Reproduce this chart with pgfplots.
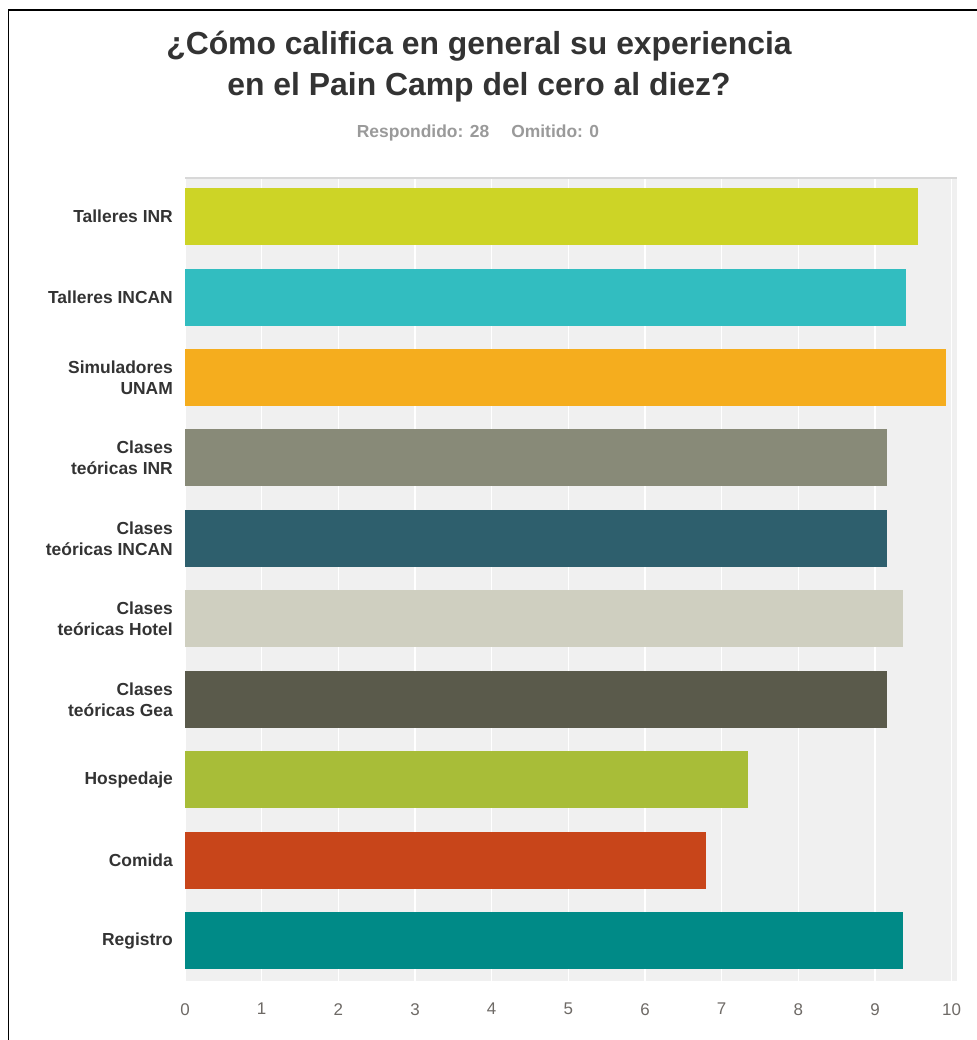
\documentclass[border=0pt]{standalone}
\usepackage{fontspec}
\setmainfont{Liberation Sans}
\usepackage{pgfplots}
\pgfplotsset{compat=1.18}
\definecolor{cA}{HTML}{CDD426}
\definecolor{cB}{HTML}{32BDC0}
\definecolor{cC}{HTML}{F5AD1E}
\definecolor{cD}{HTML}{888A78}
\definecolor{cE}{HTML}{2E5F6D}
\definecolor{cF}{HTML}{CFCFC0}
\definecolor{cG}{HTML}{5A5A4B}
\definecolor{cH}{HTML}{A8BD38}
\definecolor{cI}{HTML}{C8451A}
\definecolor{cJ}{HTML}{008A87}
\definecolor{bggray}{HTML}{F0F0F0}
\definecolor{titlegray}{HTML}{333333}
\definecolor{subgray}{HTML}{9A9A9A}
\definecolor{tickgray}{HTML}{6E6A66}
\begin{document}
\begin{tikzpicture}[x=1bp,y=1bp]
\useasboundingbox (0,0) rectangle (977,1040);
\fill[white] (0,0) rectangle (977,1040);
\draw[black, line width=1.2bp] (8.5,-5) -- (8.5,1030) -- (985,1030);
\node[font=\bfseries\fontsize{32}{41}\selectfont, align=center, text=titlegray] at (479,973) {¿Cómo califica en general su experiencia\\en el Pain Camp del cero al diez?};
\node[font=\bfseries\fontsize{17.5}{20}\selectfont, text=subgray] at (478,907) {Respondido: 28\hspace{22bp}Omitido: 0};
\begin{axis}[
  at={(185bp,59bp)}, anchor=south west, scale only axis,
  width=772bp, height=803bp,
  xmin=0, xmax=10.07, ymin=-0.48, ymax=9.5, y dir=reverse,
  xbar, bar width=57bp, bar shift=0pt,
  axis background/.style={fill=bggray},
  axis line style={draw=none},
  major tick length=0pt,
  xmajorgrids, major grid style={white, line width=1.5bp},
  xtick={0,...,10}, ytick={0,...,9},
  yticklabels={Talleres INR, Talleres INCAN, {Simuladores\\UNAM}, {Clases\\teóricas INR}, {Clases\\teóricas INCAN}, {Clases\\teóricas Hotel}, {Clases\\teóricas Gea}, Hospedaje, Comida, Registro},
  yticklabel style={align=right, inner sep=0pt, xshift=-12bp, font=\bfseries\fontsize{17.5}{21}\selectfont, text=titlegray},
  xticklabel style={inner sep=0pt, yshift=-22bp, font=\fontsize{17}{19}\selectfont, text=tickgray},
  /pgf/number format/assume math mode=true,
]
\draw[color={rgb,255:red,216;green,216;blue,216}, line width=2.5bp] (rel axis cs:0,1) -- (rel axis cs:1,1);
\addplot[fill=cA, draw=none] coordinates {(9.56,0)};
\addplot[fill=cB, draw=none] coordinates {(9.41,1)};
\addplot[fill=cC, draw=none] coordinates {(9.92,2)};
\addplot[fill=cD, draw=none] coordinates {(9.16,3)};
\addplot[fill=cE, draw=none] coordinates {(9.16,4)};
\addplot[fill=cF, draw=none] coordinates {(9.36,5)};
\addplot[fill=cG, draw=none] coordinates {(9.16,6)};
\addplot[fill=cH, draw=none] coordinates {(7.34,7)};
\addplot[fill=cI, draw=none] coordinates {(6.79,8)};
\addplot[fill=cJ, draw=none] coordinates {(9.36,9)};
\end{axis}
\end{tikzpicture}
\end{document}
